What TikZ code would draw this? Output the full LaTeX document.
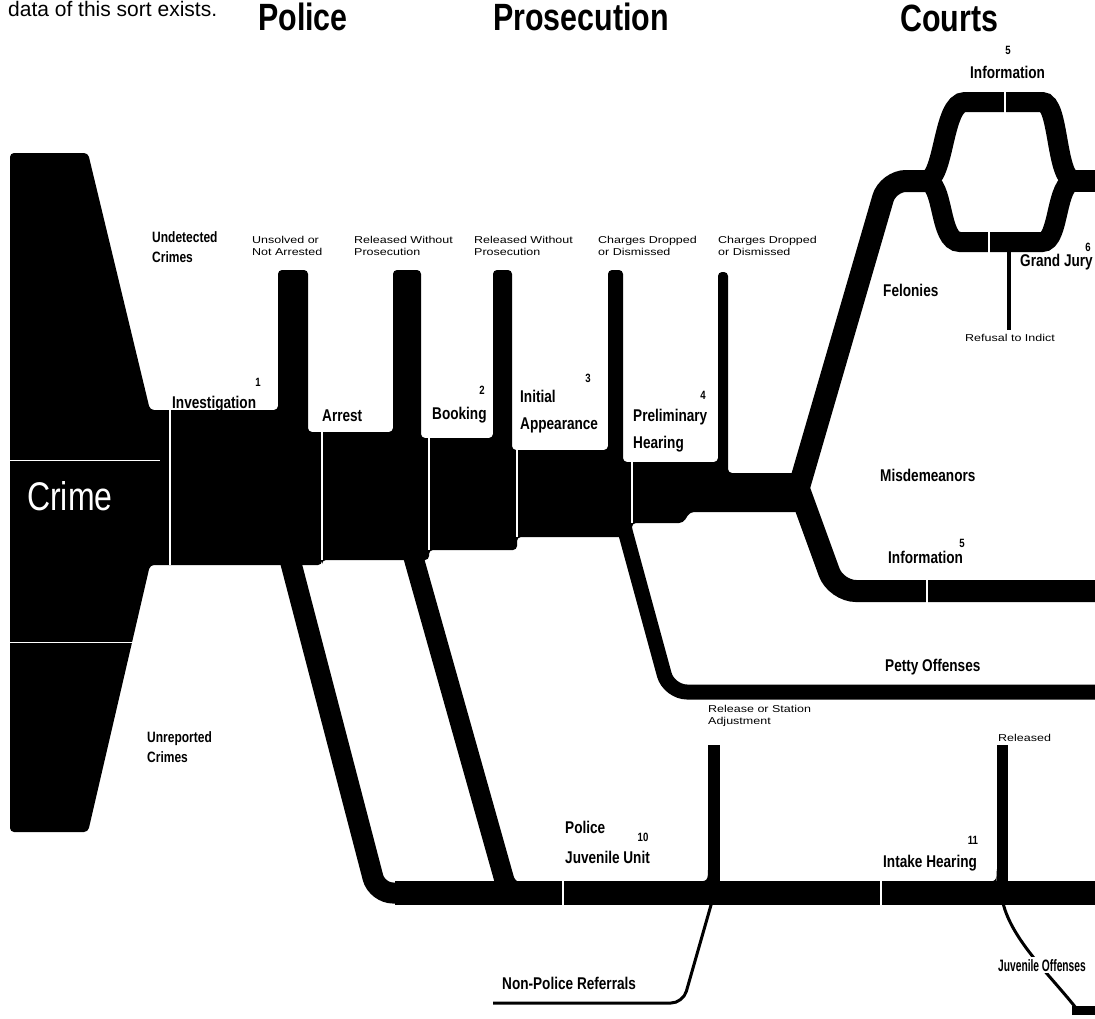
\documentclass[tikz,border=0pt]{standalone}
\usepackage{fontspec}
\setmainfont{Liberation Sans}
\newfontfamily\cnd{Liberation Sans}[FakeStretch=0.8]
\newfontfamily\cndx{Liberation Sans}[FakeStretch=0.62]
\newfontfamily\wid{Liberation Sans}[FakeStretch=1.25]
\begin{document}
\begin{tikzpicture}[x=1pt,y=-1pt,
  lab/.style={font=\cnd\bfseries\fontsize{17}{27}\selectfont, inner sep=0pt, align=left},
  labs/.style={font=\cnd\bfseries\fontsize{15}{20}\selectfont, inner sep=0pt, align=left},
  sml/.style={font=\wid\fontsize{10}{12}\selectfont, inner sep=0pt, align=left},
  num/.style={font=\cnd\bfseries\fontsize{12}{12}\selectfont, inner sep=0pt},
  head/.style={font=\cnd\bfseries\fontsize{38}{40}\selectfont, inner sep=0pt},
  gap/.style={white, line width=2pt},
  sep/.style={white, line width=1.5pt}]
\useasboundingbox (0,0) rectangle (1095,1018);
\fill[white] (0,0) rectangle (1095,1018);
\clip (0,0) rectangle (1095,1018);

% headings
\node[font=\fontsize{21}{23}\selectfont, inner sep=0pt, anchor=base west] (intro) at (8,16) {data of this sort exists.};
\node[head, anchor=base west] (hpol) at (258,30) {Police};
\node[head, anchor=base west] (hpro) at (493,30) {Prosecution};
\node[head, anchor=base west] (hcou) at (900,31) {Courts};

% main flow body
\fill[rounded corners=4pt] (10,153) -- (88,153) -- (150,410) -- (278,410) -- (278,270) -- (308,270)
  -- (308,432) -- (393,432) -- (393,270) -- (421,270) -- (421,438) -- (493,438) -- (493,270)
  -- (512,270) -- (512,450) -- (608,450) -- (608,270) -- (623,270) -- (623,462) -- (718,462)
  -- (718,272) -- (728,272) -- (728,473) -- (805,473) -- (805,512) -- (690,512) -- (683,523)
  -- (632,523) -- (632,537) -- (517,537) -- (517,550) -- (429,550) -- (429,560) -- (322,560)
  -- (322,565) -- (150,565) -- (88,832) -- (10,832) -- cycle;
\draw[sep] (170,410) -- (170,565);
\draw[sep] (322,432) -- (322,560);
\draw[sep] (429,438) -- (429,550);
\draw[sep] (517,450) -- (517,537);
\draw[sep] (632,462) -- (632,523);
\draw[white, line width=1pt] (10,460) -- (160,460);
\draw[white, line width=1pt] (10,642) -- (155,642);

% bands to lower flows
\draw[line width=21pt, rounded corners=16pt] (287,548) -- (377,893) -- (420,893);
\draw[line width=24pt] (395,893) -- (1100,893);
\draw[line width=20pt, rounded corners=14pt] (410,545) -- (508,893) -- (540,893);
\draw[line width=15pt, rounded corners=18pt] (624,527) -- (669,692) -- (1100,692);

% felony and misdemeanor branches
\draw[line width=22pt, rounded corners=18pt] (797,494) -- (888,181) -- (935,181);
\draw[line width=20pt] (925,181) .. controls (945,181) and (942,102) .. (965,102) -- (1042,102)
  .. controls (1060,102) and (1055,181) .. (1075,181);
\draw[line width=20pt] (925,181) .. controls (945,181) and (938,242) .. (960,242) -- (1042,242)
  .. controls (1060,242) and (1055,181) .. (1075,181);
\draw[line width=22pt] (1070,181) -- (1100,181);
\draw[line width=4pt] (1009,250) -- (1009,330);
\draw[line width=22pt, rounded corners=20pt] (800,492) -- (836,591) -- (1100,591);

% juvenile exits and inputs
\draw[line width=12pt] (714,745) -- (714,890);
\fill (694,881.5) .. controls (708,881.5) .. (708,867) -- (708,882) -- cycle;
\draw[line width=11pt] (1002,745) -- (1002,890);
\fill (984,881.5) .. controls (996.5,881.5) .. (996.5,869) -- (996.5,882) -- cycle;
\draw[line width=3pt, rounded corners=12pt] (493,1003) -- (683,1003) -- (713,898);
\draw[line width=3pt] (1003,903) .. controls (1012,940) and (1050,975) .. (1076,1008);
\draw[line width=9pt] (1072,1010) -- (1100,1010);

% gaps
\draw[gap] (927,578) -- (927,604);
\draw[gap] (1005,90) -- (1005,114);
\draw[gap] (989,230) -- (989,254);
\draw[gap] (563,879) -- (563,907);
\draw[gap] (881,879) -- (881,907);

% labels
\node[font=\cnd\fontsize{40}{40}\selectfont, white, inner sep=0pt, anchor=base west] (crime) at (27,510) {Crime};
\node[labs, anchor=north west] (undet) at (152,231) {Undetected\\Crimes};
\node[labs, anchor=north west] (unrep) at (147,731) {Unreported\\Crimes};
\node[sml, anchor=north west] (unsolv) at (252,236) {Unsolved or\\Not Arrested};
\node[sml, anchor=north west] (rel1) at (354,236) {Released Without\\Prosecution};
\node[sml, anchor=north west] (rel2) at (474,236) {Released Without\\Prosecution};
\node[sml, anchor=north west] (chg1) at (598,236) {Charges Dropped\\or Dismissed};
\node[sml, anchor=north west] (chg2) at (718,236) {Charges Dropped\\or Dismissed};

\node[num, anchor=base] (n1) at (258,386) {1};
\node[lab, anchor=base west] (inv) at (172,408) {Investigation};
\node[lab, anchor=base west] (arr) at (322,421) {Arrest};
\node[num, anchor=base] (n2) at (482,394) {2};
\node[lab, anchor=base west] (book) at (432,419) {Booking};
\node[num, anchor=base] (n3) at (588,382) {3};
\node[lab, anchor=north west] (init) at (520,389.5) {Initial\\Appearance};
\node[num, anchor=base] (n4) at (703,399) {4};
\node[lab, anchor=north west] (prel) at (633,408.5) {Preliminary\\Hearing};

\node[num, anchor=base] (n5a) at (1008,54) {5};
\node[lab, anchor=base west] (info1) at (970,78) {Information};
\node[num, anchor=base] (n6) at (1088,251) {6};
\node[lab, anchor=base west] (gj) at (1020,266) {Grand Jury};
\node[lab, anchor=base west] (fel) at (883,296) {Felonies};
\node[sml, anchor=base west] (refu) at (965,341) {Refusal to Indict};
\node[lab, anchor=base west] (misd) at (880,481) {Misdemeanors};
\node[num, anchor=base] (n5b) at (962,547) {5};
\node[lab, anchor=base west] (info2) at (888,563) {Information};
\node[lab, anchor=base west] (petty) at (885,671) {Petty Offenses};

\node[sml, anchor=north west] (rsa) at (708,705) {Release or Station\\Adjustment};
\node[sml, anchor=base west] (reld) at (998,741) {Released};
\node[lab, anchor=north west, font=\cnd\bfseries\fontsize{17}{30}\selectfont] (pju) at (565,820.5) {Police\\Juvenile Unit};
\node[num, anchor=base] (n10) at (643,841) {10};
\node[num, anchor=base] (n11) at (973,844) {11};
\node[lab, anchor=base west] (intake) at (883,867) {Intake Hearing};
\node[lab, anchor=base west] (npr) at (502,989) {Non-Police Referrals};
\node[font=\cndx\bfseries\fontsize{16.5}{16.5}\selectfont, inner sep=2pt, fill=white, anchor=base west] (juvo) at (996,971) {Juvenile Offenses};
\end{tikzpicture}
\end{document}
